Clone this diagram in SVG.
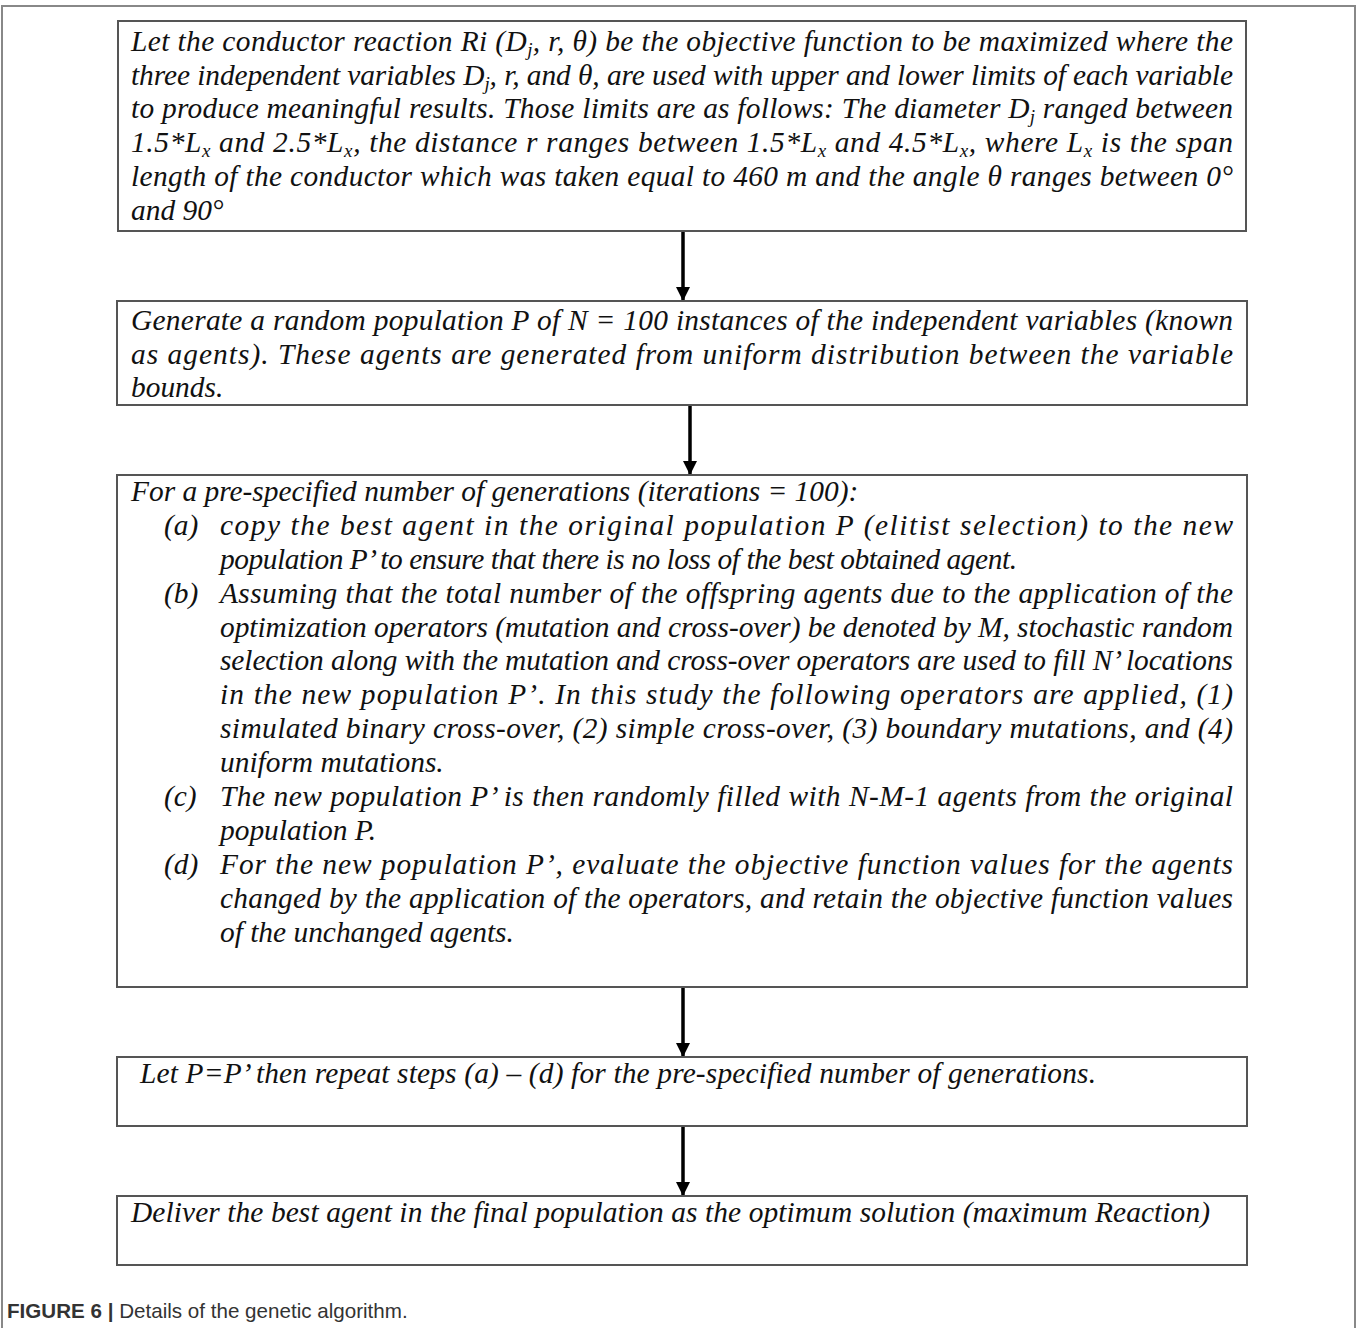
<svg xmlns="http://www.w3.org/2000/svg" width="1357" height="1328" viewBox="0 0 1357 1328">
<style>
.box{fill:#fff;stroke:#555;stroke-width:2}
.t{font-family:"Liberation Serif","Times New Roman",serif;font-style:italic;font-size:29.4px;fill:#111}
.sub{font-size:19px}
.cap{font-family:"Liberation Sans",Arial,sans-serif;font-size:20.6px;fill:#333}
.conn{stroke:#000;stroke-width:3.5;fill:none}
</style>
<defs>
<marker id="ah" markerUnits="userSpaceOnUse" markerWidth="16" markerHeight="14" refX="13" refY="7" orient="auto">
<path d="M0,0 L14,7 L0,14 Z" fill="#000"/>
</marker>
</defs>
<rect width="1357" height="1328" fill="#fff"/>
<path d="M2,1328 V6 H1355 V1328" fill="none" stroke="#888" stroke-width="2"/>

<g id="connectors">
<line class="conn" x1="683" y1="232" x2="683" y2="300" marker-end="url(#ah)"/>
<line class="conn" x1="690" y1="405" x2="690" y2="474" marker-end="url(#ah)"/>
<line class="conn" x1="683" y1="988" x2="683" y2="1056" marker-end="url(#ah)"/>
<line class="conn" x1="683" y1="1127" x2="683" y2="1195" marker-end="url(#ah)"/>
</g>

<g id="node1">
<rect class="box" x="118" y="21" width="1128" height="210"/>
<text class="t" x="131" y="51" textLength="1102" lengthAdjust="spacing">Let the conductor reaction Ri (D<tspan class="sub" dy="5">j</tspan><tspan dy="-5">, r, θ) be the objective function to be maximized where the</tspan></text>
<text class="t" x="131" y="85" textLength="1102" lengthAdjust="spacing">three independent variables D<tspan class="sub" dy="5">j</tspan><tspan dy="-5">, r, and θ, are used with upper and lower limits of each variable</tspan></text>
<text class="t" x="131" y="118" textLength="1102" lengthAdjust="spacing">to produce meaningful results. Those limits are as follows: The diameter D<tspan class="sub" dy="5">j</tspan><tspan dy="-5"> ranged between</tspan></text>
<text class="t" x="131" y="152" textLength="1102" lengthAdjust="spacing">1.5*L<tspan class="sub" dy="5">x</tspan><tspan dy="-5"> and 2.5*L</tspan><tspan class="sub" dy="5">x</tspan><tspan dy="-5">, the distance r ranges between 1.5*L</tspan><tspan class="sub" dy="5">x</tspan><tspan dy="-5"> and 4.5*L</tspan><tspan class="sub" dy="5">x</tspan><tspan dy="-5">, where L</tspan><tspan class="sub" dy="5">x</tspan><tspan dy="-5"> is the span</tspan></text>
<text class="t" x="131" y="186" textLength="1102" lengthAdjust="spacing">length of the conductor which was taken equal to 460 m and the angle θ ranges between 0°</text>
<text class="t" x="131" y="220">and 90°</text>
</g>

<g id="node2">
<rect class="box" x="117" y="301" width="1130" height="104"/>
<text class="t" x="131" y="330" textLength="1102" lengthAdjust="spacing">Generate a random population P of N = 100 instances of the independent variables (known</text>
<text class="t" x="131" y="364" textLength="1102" lengthAdjust="spacing">as agents). These agents are generated from uniform distribution between the variable</text>
<text class="t" x="131" y="397">bounds.</text>
</g>

<g id="node3">
<rect class="box" x="117" y="475" width="1130" height="512"/>
<text class="t" x="131" y="501">For a pre-specified number of generations (iterations = 100):</text>
<text class="t" x="164" y="535">(a)</text>
<text class="t" x="220" y="535" textLength="1013" lengthAdjust="spacing">copy the best agent in the original population P (elitist selection) to the new</text>
<text class="t" x="220" y="569" textLength="797" lengthAdjust="spacing">population P’ to ensure that there is no loss of the best obtained agent.</text>
<text class="t" x="164" y="603">(b)</text>
<text class="t" x="220" y="603" textLength="1013" lengthAdjust="spacing">Assuming that the total number of the offspring agents due to the application of the</text>
<text class="t" x="220" y="637" textLength="1013" lengthAdjust="spacing">optimization operators (mutation and cross-over) be denoted by M, stochastic random</text>
<text class="t" x="220" y="670" textLength="1013" lengthAdjust="spacing">selection along with the mutation and cross-over operators are used to fill N’ locations</text>
<text class="t" x="220" y="704" textLength="1013" lengthAdjust="spacing">in the new population P’. In this study the following operators are applied, (1)</text>
<text class="t" x="220" y="738" textLength="1013" lengthAdjust="spacing">simulated binary cross-over, (2) simple cross-over, (3) boundary mutations, and (4)</text>
<text class="t" x="220" y="772">uniform mutations.</text>
<text class="t" x="164" y="806">(c)</text>
<text class="t" x="220" y="806" textLength="1013" lengthAdjust="spacing">The new population P’ is then randomly filled with N-M-1 agents from the original</text>
<text class="t" x="220" y="840">population P.</text>
<text class="t" x="164" y="874">(d)</text>
<text class="t" x="220" y="874" textLength="1013" lengthAdjust="spacing">For the new population P’, evaluate the objective function values for the agents</text>
<text class="t" x="220" y="908" textLength="1013" lengthAdjust="spacing">changed by the application of the operators, and retain the objective function values</text>
<text class="t" x="220" y="942">of the unchanged agents.</text>
</g>

<g id="node4">
<rect class="box" x="117" y="1057" width="1130" height="69"/>
<text class="t" x="140" y="1083" textLength="956" lengthAdjust="spacing">Let P=P’ then repeat steps (a) – (d) for the pre-specified number of generations.</text>
</g>

<g id="node5">
<rect class="box" x="117" y="1196" width="1130" height="69"/>
<text class="t" x="131" y="1222" textLength="1079" lengthAdjust="spacing">Deliver the best agent in the final population as the optimum solution (maximum Reaction)</text>
</g>

<g id="caption">
<text class="cap" x="7" y="1318"><tspan font-weight="bold">FIGURE 6 |</tspan> Details of the genetic algorithm.</text>
</g>
</svg>
